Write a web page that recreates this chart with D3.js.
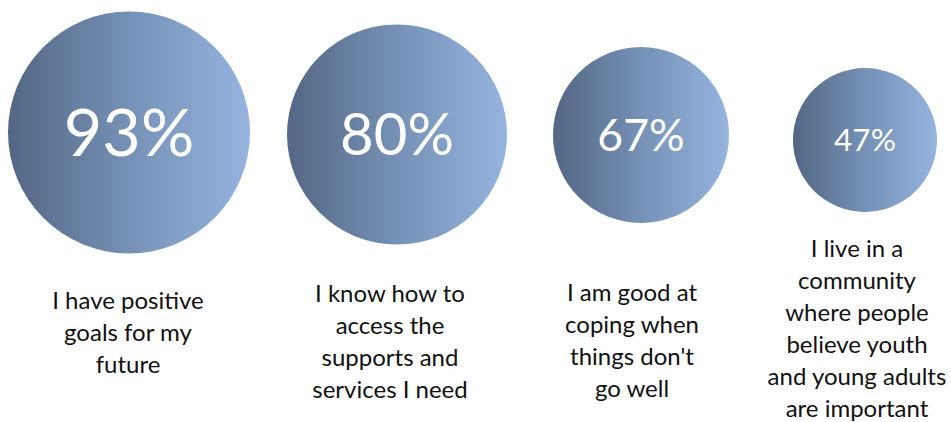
<!DOCTYPE html>
<html>
<head>
<meta charset="utf-8">
<script src="https://cdn.jsdelivr.net/npm/d3@7"></script>
<style>
  html, body { margin: 0; padding: 0; background: #ffffff; }
  svg { display: block; }
</style>
</head>
<body>
<div id="chart"></div>
<script>
// ---- data ----
const categories = ["goals", "access", "coping", "community"];
const values = [93, 80, 67, 47];
const valueLabels = ["93%", "80%", "67%", "47%"];
const statements = [
  ["I have positive", "goals for my", "future"],
  ["I know how to", "access the", "supports and", "services I need"],
  ["I am good at", "coping when", "things don't", "go well"],
  ["I live in a", "community", "where people", "believe youth", "and young adults", "are important"]
];

// ---- layout ----
const W = 951, H = 422;
const svg = d3.select("#chart").append("svg")
  .attr("width", W).attr("height", H);

const defs = svg.append("defs");
const grad = defs.append("linearGradient")
  .attr("id", "bubbleGrad")
  .attr("x1", "0%").attr("y1", "0%").attr("x2", "100%").attr("y2", "0%");
grad.append("stop").attr("offset", "0%").attr("stop-color", "#536684");
grad.append("stop").attr("offset", "50%").attr("stop-color", "#7591b6");
grad.append("stop").attr("offset", "100%").attr("stop-color", "#95b4de");

const x = d3.scaleOrdinal().domain(categories).range([129, 397, 641, 865]);
const y = d3.scaleOrdinal().domain(categories).range([132.5, 134.5, 135, 140]);
const r = d3.scaleLinear().domain([47, 67, 80, 93]).range([72, 88, 110, 121]);
const fs = d3.scaleLinear().domain([47, 67, 80, 93]).range([31.5, 44.5, 58, 66.5]);
const labelX = d3.scaleOrdinal().domain(categories).range([128, 390, 632, 857]);
const labelY = d3.scaleOrdinal().domain(categories).range([309, 302, 301, 257]);
const lineH = 32;

const data = categories.map((c, i) => ({ c, v: values[i], t: valueLabels[i], s: statements[i] }));

const g = svg.selectAll("g.item").data(data).enter().append("g").attr("class", "item");

g.append("circle")
  .attr("cx", d => x(d.c))
  .attr("cy", d => y(d.c))
  .attr("r", d => r(d.v))
  .attr("fill", "url(#bubbleGrad)");

g.append("text")
  .attr("x", d => x(d.c))
  .attr("y", d => y(d.c))
  .attr("dy", "0.36em")
  .attr("text-anchor", "middle")
  .attr("fill", "#ffffff")
  .style("font-family", "Lato, 'Open Sans', sans-serif")
  .style("font-size", d => fs(d.v) + "px")
  .text(d => d.t);

g.each(function(d) {
  const t = d3.select(this).append("text")
    .attr("text-anchor", "middle")
    .attr("fill", "#111111")
    .style("font-family", "Lato, 'Open Sans', sans-serif")
    .style("font-size", "24px");
  t.selectAll("tspan").data(d.s).enter().append("tspan")
    .attr("x", labelX(d.c))
    .attr("y", (s, j) => labelY(d.c) + j * lineH)
    .text(s => s);
});
</script>
</body>
</html>
